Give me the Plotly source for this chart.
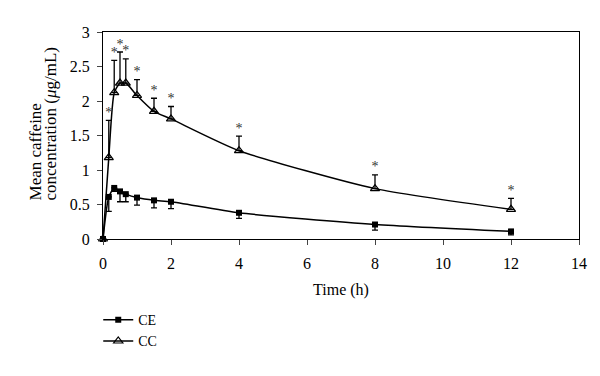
import plotly.graph_objects as go

time_h = [0, 0.17, 0.33, 0.5, 0.67, 1, 1.5, 2, 4, 8, 12]
ce_mean = [0, 0.61, 0.74, 0.69, 0.65, 0.60, 0.56, 0.54, 0.38, 0.21, 0.11]
ce_err = [0, 0.21, 0.05, 0.15, 0.11, 0.11, 0.11, 0.10, 0.08, 0.08, 0.05]
cc_mean = [0, 1.18, 2.12, 2.26, 2.26, 2.08, 1.85, 1.74, 1.28, 0.73, 0.43]
cc_err = [0, 0.54, 0.47, 0.45, 0.35, 0.23, 0.19, 0.18, 0.21, 0.20, 0.16]
sig = ["", "*", "*", "*", "*", "*", "*", "*", "*", "*", "*"]
y_title_lines = ["Mean caffeine", "concentration (<i>μ</i>g/mL)"]

FONT = "Liberation Serif"
zeros = [0] * len(time_h)

fig = go.Figure()
fig.add_trace(go.Scatter(
    x=time_h, y=ce_mean, name="CE", mode="lines+markers",
    line=dict(color="black", width=1.5, shape="spline", smoothing=0.6),
    marker=dict(symbol="square", size=6, color="black"),
    error_y=dict(type="data", symmetric=False, array=zeros, arrayminus=ce_err,
                 color="black", thickness=1.3, width=3),
    cliponaxis=False,
))
fig.add_trace(go.Scatter(
    x=time_h, y=cc_mean, name="CC", mode="lines+markers",
    line=dict(color="black", width=1.5, shape="spline", smoothing=0.6),
    marker=dict(symbol="triangle-up-open", size=8, color="black", line=dict(width=1.2)),
    error_y=dict(type="data", symmetric=False, array=cc_err, arrayminus=zeros,
                 color="black", thickness=1.3, width=3),
    cliponaxis=False,
))
fig.add_trace(go.Scatter(
    x=time_h, y=[m + e for m, e in zip(cc_mean, cc_err)], text=sig,
    mode="text", textposition="top center", showlegend=False,
    textfont=dict(family=FONT, size=14, color="#333333"), cliponaxis=False,
    hoverinfo="skip",
))

for line_text, xs in zip(y_title_lines, [-68, -53]):
    fig.add_annotation(
        text=line_text, textangle=-90, xref="paper", yref="paper",
        x=0, y=0.174, xanchor="center", yanchor="bottom", xshift=xs,
        showarrow=False, font=dict(family=FONT, size=17, color="black"),
    )

fig.update_layout(
    width=593, height=369,
    margin=dict(l=95, r=22, t=24, b=138),
    paper_bgcolor="white", plot_bgcolor="white",
    font=dict(family=FONT, size=16, color="black"),
    showlegend=True,
    legend=dict(x=-0.01, y=-0.315, xanchor="left", yanchor="top",
                font=dict(family=FONT, size=14), tracegroupgap=0,
                itemwidth=30, bgcolor="rgba(0,0,0,0)"),
    xaxis=dict(range=[0, 14], dtick=2, ticks="outside", ticklen=5,
               showline=True, linecolor="black", linewidth=1, mirror=True,
               showgrid=False, zeroline=False, automargin=False,
               ticklabelstandoff=5,
               tickfont=dict(family=FONT, size=16),
               title=dict(text="Time (h)", standoff=12, font=dict(family=FONT, size=16))),
    yaxis=dict(range=[0, 3], dtick=0.5, ticks="outside", ticklen=5,
               showline=True, linecolor="black", linewidth=1, mirror=True,
               showgrid=False, zeroline=False, automargin=False,
               ticklabelstandoff=4,
               tickfont=dict(family=FONT, size=16)),
)

fig.write_html("out.html")
